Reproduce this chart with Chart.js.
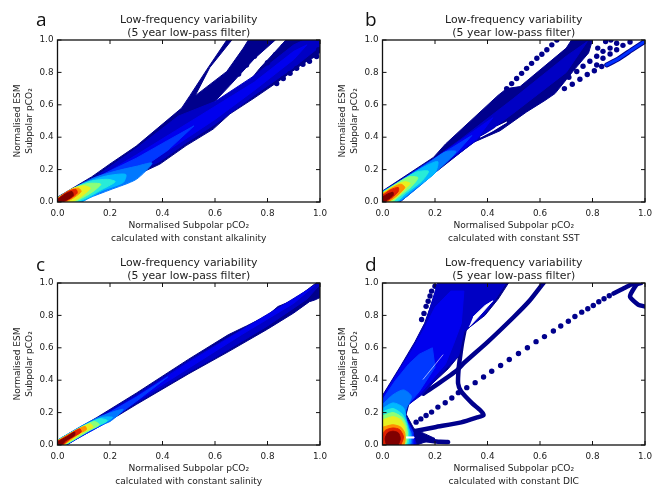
<!DOCTYPE html>
<html>
<head>
<meta charset="utf-8">
<script src="https://cdn.jsdelivr.net/npm/chart.js@4"></script>
<style>
  html, body { margin: 0; padding: 0; background: #fff; }
  #page { position: relative; width: 653px; height: 488px; overflow: hidden; }
  .panel { position: absolute; width: 335px; height: 245px; }
  .panel canvas { filter: blur(0.35px); }
  .letter { position: absolute; font: 19px "Open Sans", sans-serif; color: #111; }
</style>
</head>
<body>
<div id="page"></div>
<script>
// colour steps of the density scale, low to high
const jetColors = ["#0000c4", "#0000ee", "#0038ff", "#0078ff", "#00b8ff", "#28ecd8", "#8cff78", "#e8f020", "#ff9000", "#e02000", "#800000"];
const navy = "#00008c";
const xTitleTop = "Normalised Subpolar pCO₂";
const yTitle = ["Normalised ESM", "Subpolar pCO₂"];
const chartTitle = ["Low-frequency variability", "(5 year low-pass filter)"];

// ---- panel a ----
const aOutline = [[0,.03],[.13,.155],[.2,.235],[.3,.345],[.473,.58],[.505,.658],[.57,.82],[.645,1],[.664,1],[.58,.83],[.524,.655],[.645,.806],[.708,.95],[.727,1],[.83,1],[.75,.885],[.657,.72],[.593,.61],[.63,.62],[.726,.735],[.771,.826],[.822,.915],[.87,1],[1,1],[1,.93],[.993,.908],[.937,.856],[.829,.73],[.745,.637],[.657,.544],[.593,.45],[.49,.348],[.39,.234],[.2,.09],[.086,0],[0,0]];
const aDots = [[.835,.731],[.86,.7625],[.886,.794],[.911,.825],[.935,.85],[.96,.869],[.987,.898],[.995,.94],[.69,.79],[.72,.845],[.75,.9],[.8,.86],[.83,.91],[.86,.96]];
const aLevels = [
  [[0,.02],[.13,.14],[.3,.33],[.46,.53],[.6,.62],[.75,.78],[.9,.97],[.94,1],[1,1],[1,.96],[.9,.83],[.75,.66],[.6,.48],[.49,.365],[.39,.25],[.2,.1],[.08,.005],[0,0]],
  [[0,.015],[.14,.135],[.3,.29],[.45,.44],[.6,.59],[.75,.74],[.9,.93],[.95,.97],[.9,.88],[.75,.69],[.6,.51],[.47,.37],[.3,.19],[.15,.085],[.07,.005],[0,0]],
  [[0,.01],[.16,.16],[.3,.27],[.42,.38],[.52,.47],[.42,.32],[.3,.185],[.16,.085],[.07,.005],[0,0]],
  [[0,.025],[.09,.11],[.14,.15],[.22,.19],[.3,.22],[.36,.24],[.3,.14],[.2,.075],[.12,.025],[.09,0],[0,0]],
  [[0,.025],[.09,.105],[.14,.14],[.2,.165],[.26,.17],[.25,.12],[.17,.07],[.115,.02],[.08,0],[0,0]],
  [[0,.025],[.08,.1],[.13,.13],[.19,.14],[.22,.125],[.16,.07],[.11,.025],[.07,0],[0,0]],
  [[0,.025],[.08,.095],[.12,.115],[.165,.11],[.14,.07],[.1,.03],[.06,0],[0,0]],
  [[0,.025],[.06,.085],[.1,.1],[.125,.085],[.1,.045],[.07,.012],[.04,0],[0,0]],
  [[0,.02],[.05,.075],[.08,.085],[.09,.065],[.065,.03],[.03,0],[0,0]],
  [[0,.02],[.04,.065],[.07,.078],[.075,.055],[.05,.022],[.02,0],[0,0]],
  [[0,.015],[.03,.05],[.055,.065],[.06,.04],[.035,.012],[.015,0],[0,0]]
];

// ---- panel b ----
const bOutline = [[0,.068],[.194,.275],[.24,.358],[.44,.658],[.473,.7],[.524,.7125],[.7,.95],[.72,1],[.8,1],[.785,.92],[.735,.825],[.7,.755],[.657,.669],[.619,.627],[.549,.556],[.448,.44],[.346,.368],[.207,.19],[.067,0],[0,0]];
const bDots = [[.664,1],[.645,.97],[.626,.94],[.607,.9125],[.588,.8875],[.568,.856],[.549,.825],[.53,.794],[.511,.7625],[.492,.731],[.473,.7],[.693,.7],[.723,.727],[.752,.758],[.78,.7875],[.807,.81],[.835,.836],[.816,.846],[.84,.8875],[.867,.914],[.892,.94],[.916,.967],[.943,.9875],[.71,.77],[.74,.806],[.764,.8375],[.79,.869],[.816,.9],[.84,.93],[.867,.95],[.892,.98],[.82,.95],[.85,.99],[.87,1]];
const bEndLine = [[.854,.846],[.9,.885],[.95,.94],[1,.992]];
const bGap = [[.372,.4],[.42,.44],[.473,.493],[.43,.46]];
const bLevels = [
  [[0,.06],[.19,.26],[.3,.39],[.5,.64],[.7,.9],[.78,.99],[.7,.8],[.5,.55],[.35,.37],[.2,.19],[.06,0],[0,0]],
  [[0,.06],[.19,.26],[.28,.36],[.42,.52],[.36,.39],[.2,.2],[.06,.005],[0,0]],
  [[0,.06],[.16,.23],[.24,.31],[.34,.41],[.28,.3],[.18,.17],[.06,.005],[0,0]],
  [[0,.065],[.1,.16],[.18,.245],[.24,.31],[.28,.31],[.2,.18],[.12,.07],[.06,0],[0,0]],
  [[0,.06],[.09,.15],[.15,.21],[.21,.25],[.2,.18],[.12,.08],[.055,0],[0,0]],
  [[0,.06],[.08,.14],[.13,.185],[.175,.19],[.15,.13],[.09,.055],[.05,0],[0,0]],
  [[0,.055],[.06,.12],[.1,.155],[.135,.15],[.11,.095],[.06,.03],[.035,0],[0,0]],
  [[0,.055],[.05,.105],[.085,.125],[.105,.115],[.08,.07],[.04,.015],[0,0]],
  [[0,.05],[.04,.09],[.07,.11],[.085,.09],[.06,.045],[.025,.005],[0,0]],
  [[0,.04],[.03,.075],[.06,.09],[.06,.065],[.035,.025],[.01,0],[0,0]],
  [[0,.03],[.02,.05],[.04,.06],[.04,.04],[.02,.015],[.005,0],[0,0]]
];

// ---- panel c ----
const cOutline = [[0,.03],[.15,.17],[.3,.32],[.5,.53],[.65,.68],[.72,.735],[.8,.8],[.84,.855],[.9,.895],[.985,1],[1,1],[1,.91],[.98,.895],[.96,.885],[.9,.815],[.8,.715],[.65,.575],[.5,.44],[.3,.25],[.188,.14],[.14,.11],[.035,0],[0,0]];
const cLevels = [
  [[0,.028],[.15,.165],[.3,.31],[.5,.52],[.7,.71],[.85,.855],[.99,.995],[1,.99],[.95,.9],[.8,.735],[.6,.54],[.5,.45],[.3,.26],[.19,.15],[.035,0],[0,0]],
  [[0,.025],[.16,.165],[.3,.3],[.5,.51],[.7,.705],[.9,.9],[.98,.985],[.9,.875],[.7,.68],[.5,.475],[.3,.27],[.2,.15],[.03,0],[0,0]],
  [[0,.025],[.16,.165],[.3,.295],[.42,.42],[.3,.27],[.2,.15],[.03,0],[0,0]],
  [[0,.03],[.1,.125],[.17,.18],[.25,.22],[.2,.145],[.14,.11],[.03,0],[0,0]],
  [[0,.03],[.1,.12],[.17,.17],[.21,.17],[.16,.12],[.12,.09],[.028,0],[0,0]],
  [[0,.028],[.1,.118],[.16,.162],[.19,.15],[.15,.115],[.12,.088],[.025,0],[0,0]],
  [[0,.028],[.09,.11],[.14,.145],[.16,.125],[.12,.088],[.025,0],[0,0]],
  [[0,.025],[.08,.1],[.125,.13],[.135,.11],[.1,.08],[.022,0],[0,0]],
  [[0,.025],[.07,.09],[.105,.115],[.11,.095],[.08,.068],[.02,0],[0,0]],
  [[0,.022],[.05,.07],[.085,.1],[.09,.08],[.05,.04],[.018,0],[0,0]],
  [[0,.02],[.035,.05],[.065,.08],[.065,.06],[.03,.025],[.015,0],[0,0]]
];

// ---- panel d ----
const dOutline = [[0,.306],[.067,.482],[.124,.638],[.16,.75],[.215,1],[.48,1],[.44,.9],[.39,.8],[.33,.725],[.315,.7],[.296,.56],[.25,.47],[.15,.32],[.1,.25],[.09,.19],[.12,.1],[.16,.07],[.2,.04],[.13,0],[0,0]];
const dThickA = [[.156,.317],[.2,.365],[.283,.46],[.308,.503],[.4,.635],[.5,.79],[.56,.89],[.613,1]];
const dThickB = [[.315,.73],[.302,.62],[.296,.55],[.29,.47],[.288,.38],[.3,.33],[.34,.26],[.375,.21],[.385,.185],[.36,.17],[.3,.14],[.2,.11],[.12,.085]];
const dBottom = [[.13,.04],[.16,.03],[.19,.025],[.22,.02],[.25,.018]];
const dHook = [[.88,.935],[.91,.96],[.94,.985],[.96,1],[.985,1],[.968,.99],[.943,.917],[.975,.865],[1,.855]];
const dDots = [[.128,.141],[.146,.161],[.166,.182],[.187,.203],[.211,.234],[.239,.261],[.264,.29],[.289,.323],[.321,.354],[.353,.385],[.385,.42],[.416,.455],[.45,.491],[.483,.528],[.518,.565],[.552,.6],[.585,.638],[.617,.669],[.651,.704],[.679,.735],[.708,.764],[.733,.793],[.759,.82],[.782,.841],[.803,.861],[.824,.884],[.844,.903],[.864,.921]];
const dEdgeDots = [[.2,.98],[.187,.95],[.181,.92],[.174,.8875],[.166,.856],[.158,.8125],[.149,.775]];
const dWedge = [[.33,.73],[.365,.79],[.42,.89],[.39,.86],[.345,.79]];
const dStreak = [[.155,.406],[.23,.556]];
const dHotStreak = [[.09,.043],[.12,.043],[.12,.05],[.09,.05]];
const dLevels = [
  [[0,.3],[.065,.47],[.12,.62],[.165,.76],[.21,1],[.47,1],[.43,.9],[.385,.8],[.31,.7],[.29,.55],[.24,.47],[.15,.31],[.095,.245],[.085,.19],[.11,.1],[.13,0],[0,0]],
  [[0,.295],[.06,.45],[.115,.59],[.16,.72],[.2,.85],[.26,.95],[.31,.95],[.3,.75],[.27,.62],[.24,.5],[.15,.33],[.09,.24],[.085,.18],[.115,.09],[.125,0],[0,0]],
  [[0,.28],[.05,.4],[.1,.5],[.14,.56],[.19,.6],[.2,.48],[.14,.33],[.09,.235],[.085,.17],[.115,.08],[.115,0],[0,0]],
  [[0,.25],[.04,.31],[.08,.34],[.11,.3],[.09,.22],[.085,.15],[.11,.07],[.105,0],[0,0]],
  [[0,.225],[.04,.26],[.08,.23],[.09,.16],[.105,.07],[.1,0],[0,0]],
  [[0,.205],[.04,.225],[.075,.19],[.09,.14],[.1,.065],[.092,0],[0,0]],
  [[0,.18],[.04,.2],[.075,.17],[.09,.12],[.095,.06],[.085,0],[0,0]],
  [[0,.155],[.04,.175],[.07,.155],[.085,.11],[.085,.05],[.08,0],[0,0]],
  [[0,.11],[.04,.125],[.07,.11],[.085,.07],[.08,0],[0,0]],
  [[.005,0],[0,.05],[.01,.09],[.04,.105],[.065,.095],[.08,.05],[.07,0]],
  [[.015,0],[.01,.04],[.02,.075],[.04,.085],[.06,.075],[.068,.04],[.06,0]]
];

const xy = pts => pts.map(p => ({ x: p[0], y: p[1] }));

function band(pts, color, smooth) {
  return { data: xy(pts), showLine: true, fill: "shape", backgroundColor: color, borderColor: color,
    borderWidth: 1, pointRadius: 0, tension: smooth ? 0.25 : 0 };
}
function dots(pts, radius) {
  return { data: xy(pts), showLine: false, pointRadius: radius || 2.7, backgroundColor: navy, borderWidth: 0 };
}
function thick(pts, color, width) {
  return { data: xy(pts), showLine: true, borderColor: color, borderWidth: width, pointRadius: 0, tension: 0.2,
    borderCapStyle: "round", borderJoinStyle: "round", backgroundColor: color };
}
function levels(list) {
  return list.map((pts, i) => band(pts, jetColors[i], i > 2));
}

// frame and inward ticks on all four sides, like the original axes
const frameTicks = {
  id: "frameTicks",
  afterDatasetsDraw(chart) {
    const { ctx, chartArea: a, scales } = chart;
    ctx.save();
    ctx.strokeStyle = "#111";
    ctx.lineWidth = 1;
    ctx.beginPath();
    scales.x.ticks.forEach(t => {
      const px = scales.x.getPixelForValue(t.value);
      ctx.moveTo(px, a.bottom); ctx.lineTo(px, a.bottom - 4);
      ctx.moveTo(px, a.top); ctx.lineTo(px, a.top + 4);
    });
    scales.y.ticks.forEach(t => {
      const py = scales.y.getPixelForValue(t.value);
      ctx.moveTo(a.left, py); ctx.lineTo(a.left + 4, py);
      ctx.moveTo(a.right, py); ctx.lineTo(a.right - 4, py);
    });
    ctx.stroke();
    ctx.lineWidth = 1.3;
    ctx.strokeRect(a.left, a.top, a.right - a.left, a.bottom - a.top);
    ctx.restore();
  }
};

function drawPanel(p) {
  const box = document.createElement("div");
  box.className = "panel";
  box.style.left = p.left + "px";
  box.style.top = p.top + "px";
  const canvas = document.createElement("canvas");
  canvas.width = 335;
  canvas.height = 245;
  box.appendChild(canvas);
  const page = document.getElementById("page");
  page.appendChild(box);

  const letter = document.createElement("div");
  letter.className = "letter";
  letter.textContent = p.letter;
  letter.style.left = p.letterLeft + "px";
  letter.style.top = p.letterTop + "px";
  page.appendChild(letter);

  const tickFont = { family: "DejaVu Sans", size: 8.8 };
  new Chart(canvas, {
    type: "scatter",
    // Chart.js paints the first dataset last, so the layers go in reversed
    data: { datasets: p.layers.slice().reverse() },
    options: {
      animation: false,
      responsive: false,
      layout: { padding: 0 },
      plugins: {
        legend: { display: false },
        tooltip: { enabled: false },
        title: {
          display: true, text: chartTitle, color: "#222", fullSize: false,
          font: { family: "DejaVu Sans", size: 10.9, weight: "normal", lineHeight: "13px" },
          padding: { top: 13.5, bottom: 0.5 }
        }
      },
      scales: {
        x: {
          min: 0, max: 1,
          grid: { display: false, drawTicks: false }, border: { display: false },
          afterFit: s => { s.height = 43; s.paddingLeft = 0; s.paddingRight = 15; },
          ticks: { stepSize: 0.2, color: "#222", font: tickFont, padding: 6, maxRotation: 0, autoSkip: false, callback: v => v.toFixed(1) },
          title: { display: true, text: [xTitleTop, p.xNote], color: "#222", font: { family: "DejaVu Sans", size: 9.1, lineHeight: "13px" }, padding: { top: 5, bottom: 0 } }
        },
        y: {
          min: 0, max: 1,
          grid: { display: false, drawTicks: false }, border: { display: false },
          afterFit: s => { s.width = 57.5; s.paddingTop = 0; s.paddingBottom = 0; },
          ticks: { stepSize: 0.2, color: "#222", font: tickFont, padding: 4, autoSkip: false, callback: v => v.toFixed(1) },
          title: { display: true, text: yTitle, color: "#222", font: { family: "DejaVu Sans", size: 9, lineHeight: "12px" }, padding: { top: 12, bottom: 0 } }
        }
      }
    },
    plugins: [frameTicks]
  });
}

const gapWhite = "#ffffff";
const panels = [
  { letter: "a", left: 0, top: 0, letterLeft: 36, letterTop: 6, xNote: "calculated with constant alkalinity",
    layers: [band(aOutline, navy), ...levels(aLevels), dots(aDots)] },
  { letter: "b", left: 325, top: 0, letterLeft: 365, letterTop: 6, xNote: "calculated with constant SST",
    layers: [dots(bDots), thick(bEndLine, navy, 5), thick(bEndLine, "#0030ff", 3), band(bOutline, navy), ...levels(bLevels), band(bGap, gapWhite)] },
  { letter: "c", left: 0, top: 243, letterLeft: 36, letterTop: 251, xNote: "calculated with constant salinity",
    layers: [band(cOutline, navy), ...levels(cLevels)] },
  { letter: "d", left: 325, top: 243, letterLeft: 365, letterTop: 251, xNote: "calculated with constant DIC",
    layers: [thick(dThickA, navy, 4.5), thick(dThickB, navy, 4.5), thick(dBottom, navy, 4.5), thick(dHook, navy, 4.5), dots(dDots), dots(dEdgeDots), band(dOutline, navy), ...levels(dLevels), band(dWedge, gapWhite), thick(dStreak, gapWhite, 0.6), band(dHotStreak, gapWhite)] }
];

panels.forEach(drawPanel);
</script>
</body>
</html>
